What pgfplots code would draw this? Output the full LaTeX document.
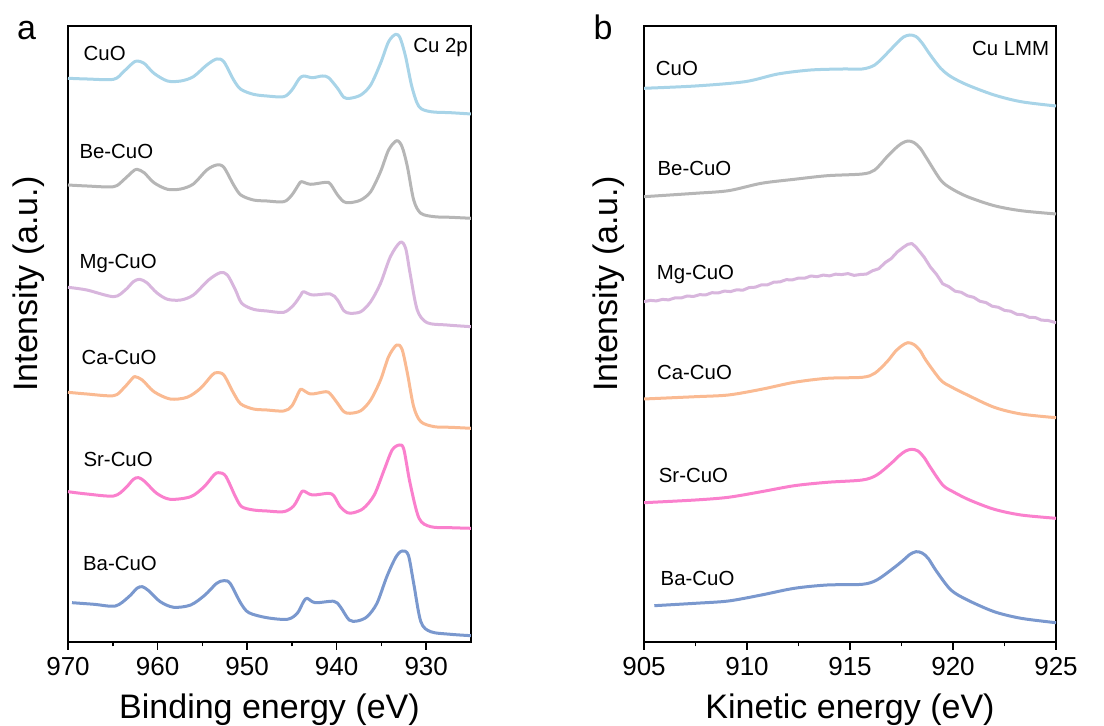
\documentclass[border=0pt]{standalone}
\usepackage{fontspec}
\setmainfont{Liberation Sans}
\usepackage{pgfplots}
\pgfplotsset{compat=1.18}
\definecolor{cCuO}{RGB}{168,212,232}
\definecolor{cBe}{RGB}{182,182,182}
\definecolor{cMg}{RGB}{216,182,221}
\definecolor{cCa}{RGB}{250,186,146}
\definecolor{cSr}{RGB}{250,128,205}
\definecolor{cBa}{RGB}{122,152,206}
\tikzset{samp/.style={font=\fontsize{10.2}{12}\selectfont, anchor=base, inner sep=0pt}}
\pgfplotsset{
  myax/.style={
    scale only axis, height=308pt,
    ymin=84, ymax=700, ytick=\empty,
    axis line style={line width=0.8pt}, 
    every tick/.style={black, line width=0.8pt},
    xtick pos=bottom, tick align=outside,
    major tick length=4pt, minor tick length=2.2pt,
    /pgf/number format/assume math mode=true,
    /pgf/number format/.cd, 1000 sep={}, /pgfplots/.cd,
    tick label style={font=\fontsize{13}{15}\selectfont},
    label style={font=\fontsize{17}{19}\selectfont},
    every axis plot/.append style={line width=1.5pt, line join=round},
    clip=true,
  },
}
\begin{document}
\begin{tikzpicture}
\path[use as bounding box] (0,0) rectangle (552pt,363pt);
\begin{axis}[myax,
  at={(34pt,42pt)}, anchor=south west, width=201.5pt,
  xmin=925, xmax=970, x dir=reverse,
  xtick={930,940,950,960,970}, minor xtick={935,945,955,965},
  xlabel={Binding energy (eV)},
  xlabel style={at={(axis description cs:0.5,-0.124)}, anchor=base},
  ylabel={Intensity (a.u.)},
  ylabel style={at={(axis description cs:-0.0769,0.581)}, anchor=base},
]
% CuO
\addplot[cCuO, smooth] coordinates {
(970.0,647.7) (967.9,647.0) (964.9,646.7) (963.8,654.3) (962.8,662.7) (962.3,665.0)
(961.5,662.7) (960.4,652.7) (958.9,645.0) (957.4,645.0) (956.0,649.3) (954.5,661.0)
(953.4,667.0) (952.6,664.3) (951.5,646.0) (950.7,636.7) (949.3,631.7) (947.8,630.0)
(945.9,629.3) (945.0,636.0) (944.2,647.0) (943.7,650.0) (942.7,648.3) (941.6,650.0)
(940.9,648.3) (939.9,637.7) (939.2,628.7) (938.5,627.7) (937.3,631.0) (936.2,641.0)
(935.1,662.7) (934.2,684.3) (933.4,691.7) (932.9,687.7) (932.3,669.3) (931.6,639.3)
(930.8,619.3) (929.5,614.3) (927.3,613.3) (925.0,612.0)};
% Be-CuO
\addplot[cBe, smooth] coordinates {
(970.0,541.0) (967.9,540.0) (964.9,539.3) (963.8,546.0) (962.8,554.3) (962.3,556.7)
(961.5,553.3) (960.4,543.3) (958.9,536.7) (957.4,537.0) (956.0,542.0) (954.5,556.0)
(953.4,561.0) (952.6,558.7) (951.5,541.0) (950.7,531.0) (949.3,526.0) (947.8,525.0)
(945.9,524.3) (945.0,531.0) (944.2,542.0) (943.9,544.3) (942.9,541.7) (941.2,543.7)
(940.7,542.0) (939.9,531.0) (939.2,524.3) (938.5,523.3) (937.3,526.0) (936.2,534.3)
(935.1,554.3) (934.2,576.0) (933.3,585.3) (932.7,579.3) (932.1,559.3) (931.4,526.0)
(930.6,512.7) (929.1,509.3) (927.3,508.7) (925.0,507.7)};
% Mg-CuO
\addplot[cMg, smooth] coordinates {
(970.0,438.7) (967.9,436.0) (964.9,429.3) (963.6,436.0) (962.7,444.3) (962.0,446.7)
(961.2,443.3) (960.1,433.3) (958.9,426.7) (957.4,426.0) (956.0,431.0) (954.3,446.0)
(953.0,453.3) (952.2,451.0) (951.3,436.0) (950.6,422.7) (949.3,416.7) (947.8,415.0)
(945.9,413.7) (944.8,421.0) (944.0,431.0) (943.7,434.3) (942.7,431.0) (940.7,432.0)
(939.9,426.0) (939.2,415.3) (938.5,412.7) (937.3,414.3) (936.2,424.3) (935.1,442.7)
(934.0,469.3) (932.9,483.7) (932.3,477.7) (931.8,452.7) (931.0,416.0) (929.9,403.3)
(927.7,401.0) (925.0,399.3)};
% Ca-CuO
\addplot[cCa, smooth] coordinates {
(970.0,333.7) (967.9,332.0) (964.9,330.3) (963.8,337.7) (962.8,347.7) (962.5,349.3)
(961.7,346.0) (960.4,334.3) (958.6,327.0) (956.7,328.7) (955.2,337.7) (953.9,351.0)
(953.4,353.3) (952.6,351.0) (951.5,332.7) (950.7,322.0) (949.3,317.0) (947.8,316.0)
(945.9,315.0) (945.0,320.0) (944.2,334.3) (943.9,336.7) (942.9,332.0) (941.2,334.3)
(940.7,332.0) (939.9,322.7) (939.2,314.3) (938.5,312.7) (937.3,315.3) (936.2,326.0)
(935.1,346.0) (934.2,369.3) (933.3,381.0) (932.7,376.7) (932.1,352.7) (931.4,319.3)
(930.6,304.3) (929.1,299.3) (927.3,298.7) (925.0,297.7)};
% Sr-CuO
\addplot[cSr, smooth] coordinates {
(970.0,234.3) (967.9,232.0) (964.9,230.0) (963.6,237.7) (962.7,246.7) (962.1,248.3)
(961.4,244.3) (960.1,232.7) (958.6,226.7) (956.3,229.3) (954.8,239.3) (953.7,251.0)
(953.2,253.3) (952.4,250.0) (951.3,229.3) (950.6,219.3) (949.3,216.0) (947.8,215.0)
(945.9,214.3) (944.8,220.0) (944.0,232.7) (943.7,235.0) (942.7,231.0) (940.9,232.7)
(940.3,230.0) (939.6,219.3) (938.8,213.3) (938.1,213.3) (937.0,217.7) (935.8,231.0)
(934.7,256.0) (933.8,276.0) (933.0,281.0) (932.5,276.7) (931.8,242.7) (930.8,207.7)
(929.5,199.3) (927.3,198.3) (925.0,197.7)};
% Ba-CuO
\addplot[cBa, smooth] coordinates {
(969.55,123.3) (967.1,121.7) (964.7,120.0) (963.2,129.3) (962.3,137.7) (961.7,139.3)
(961.0,135.3) (959.7,124.3) (958.2,118.7) (956.3,121.0) (954.7,131.0) (953.4,142.7)
(952.6,145.3) (951.9,142.7) (950.7,122.7) (949.8,113.3) (947.8,108.3) (945.5,106.7)
(944.4,112.7) (943.7,124.3) (943.3,127.7) (942.4,123.3) (940.3,124.7) (939.6,119.3)
(938.6,106.0) (937.7,105.0) (936.6,109.3) (935.5,122.7) (934.4,149.3) (933.4,168.7)
(932.7,175.0) (932.0,171.0) (931.4,142.7) (930.6,104.3) (929.5,94.3) (927.3,91.7)
(925.0,90.3)};
\node[samp] at (axis cs:965.9,665.3) {CuO};
\node[samp] at (axis cs:964.6,567.7) {Be-CuO};
\node[samp] at (axis cs:964.4,457.7) {Mg-CuO};
\node[samp] at (axis cs:964.3,361.7) {Ca-CuO};
\node[samp] at (axis cs:964.4,259.3) {Sr-CuO};
\node[samp] at (axis cs:964.2,155.3) {Ba-CuO};
\node[samp] at (axis cs:928.4,673.3) {Cu 2p};
\end{axis}
\begin{axis}[myax,
  at={(322pt,42pt)}, anchor=south west, width=206pt,
  xmin=905, xmax=925,
  xtick={905,910,915,920,925}, minor xtick={907.5,912.5,917.5,922.5},
  xlabel={Kinetic energy (eV)},
  xlabel style={at={(axis description cs:0.5,-0.124)}, anchor=base},
  ylabel={Intensity (a.u.)},
  ylabel style={at={(axis description cs:-0.0655,0.581)}, anchor=base},
]
% CuO
\addplot[cCuO, smooth] coordinates {
(905.0,637.7) (907.5,640.0) (909.9,644.3) (911.5,652.0) (913.1,656.0) (914.7,657.0)
(915.6,657.0) (916.2,661.0) (916.8,672.7) (917.3,683.5) (917.6,689.0) (917.9,691.0)
(918.2,689.5) (918.5,683.0) (918.9,671.0) (919.4,657.7) (919.9,649.3) (920.7,641.0)
(922.0,631.0) (923.3,624.3) (925.0,620.0)};
% Be-CuO
\addplot[cBe, smooth] coordinates {
(905.0,529.3) (907.5,532.7) (909.1,535.3) (910.7,542.7) (912.3,546.7) (913.9,550.3)
(915.6,552.0) (916.2,556.0) (916.8,569.3) (917.2,577.5) (917.5,582.5) (917.8,585.0)
(918.1,583.5) (918.4,578.0) (918.7,568.5) (919.4,546.0) (919.9,537.7) (920.7,529.3)
(922.0,520.3) (923.3,515.3) (925.0,512.0)};
% Mg-CuO
\addplot[cMg] coordinates {
(905.0,424.3) (905.3,425.6) (905.6,425.1) (905.9,426.6) (906.2,426.1) (906.5,428.1)
(906.8,428.0) (907.1,430.0) (907.4,429.5) (907.7,431.3) (908.0,431.1) (908.3,433.3)
(908.6,433.0) (908.9,434.9) (909.2,434.4) (909.5,436.2) (909.8,435.8) (910.1,438.4)
(910.4,438.8) (910.7,441.1) (911.0,441.2) (911.3,443.8) (911.6,444.1) (911.9,446.3)
(912.2,446.1) (912.5,447.9) (912.8,447.8) (913.1,450.0) (913.4,449.3) (913.7,450.9)
(914.0,450.1) (914.3,451.8) (914.6,451.4) (914.9,452.4) (915.2,450.6) (915.5,451.5)
(915.8,451.9) (916.1,455.3) (916.4,457.3) (916.7,463.3) (917.0,467.4) (917.3,474.1)
(917.6,478.9) (917.8,481.6) (918.0,482.5) (918.2,479.0) (918.4,473.9) (918.6,468.8)
(918.9,459.0) (919.2,451.6) (919.5,442.2) (919.8,439.3) (920.1,434.8) (920.4,433.7)
(920.7,430.2) (921.0,428.7) (921.3,424.8) (921.6,423.4) (921.9,419.8) (922.2,418.7)
(922.5,415.6) (922.8,414.8) (923.1,411.7) (923.4,411.2) (923.7,408.7) (924.0,408.4)
(924.3,405.8) (924.6,405.6) (925.0,403.3)};
% Ca-CuO
\addplot[cCa, smooth] coordinates {
(905.0,327.0) (907.5,329.3) (909.1,331.0) (910.7,336.7) (912.3,343.7) (913.9,347.7)
(915.6,348.7) (916.2,352.7) (916.8,364.3) (917.2,374.5) (917.5,380.0) (917.8,383.3)
(918.1,381.5) (918.4,375.5) (918.7,365.3) (919.4,346.0) (919.9,339.3) (920.7,331.0)
(922.0,318.7) (923.3,312.0) (925.0,308.3)};
% Sr-CuO
\addplot[cSr, smooth] coordinates {
(905.0,223.3) (907.5,226.0) (909.1,228.7) (910.7,234.3) (912.3,240.3) (913.9,243.7)
(915.6,246.0) (916.3,251.0) (917.0,262.7) (917.4,270.5) (917.7,275.0) (918.0,276.7)
(918.3,275.0) (918.6,268.5) (918.9,258.7) (919.5,241.0) (920.0,234.3) (920.8,226.0)
(922.0,216.7) (923.3,211.0) (925.0,207.7)};
% Ba-CuO
\addplot[cBa, smooth] coordinates {
(905.5,120.3) (907.5,122.7) (909.1,125.0) (910.7,131.0) (912.3,137.7) (913.9,141.0)
(915.6,141.7) (916.3,146.0) (917.1,157.7) (917.6,166.0) (917.9,171.5) (918.2,174.3)
(918.5,173.0) (918.8,167.5) (919.2,154.7) (919.9,136.0) (920.7,126.0) (922.0,114.3)
(923.3,107.7) (925.0,103.3)};
\node[samp] at (axis cs:906.6,650.0) {CuO};
\node[samp] at (axis cs:907.45,550.0) {Be-CuO};
\node[samp] at (axis cs:907.5,446.0) {Mg-CuO};
\node[samp] at (axis cs:907.45,346.7) {Ca-CuO};
\node[samp] at (axis cs:907.4,243.3) {Sr-CuO};
\node[samp] at (axis cs:907.6,140.0) {Ba-CuO};
\node[samp] at (axis cs:922.8,670.3) {Cu LMM};
\end{axis}
\node[anchor=base, inner sep=0pt, font=\fontsize{17}{19}\selectfont] at (13.3pt,343.4pt) {a};
\node[anchor=base, inner sep=0pt, font=\fontsize{17}{19}\selectfont] at (301.5pt,343.4pt) {b};
\end{tikzpicture}
\end{document}
